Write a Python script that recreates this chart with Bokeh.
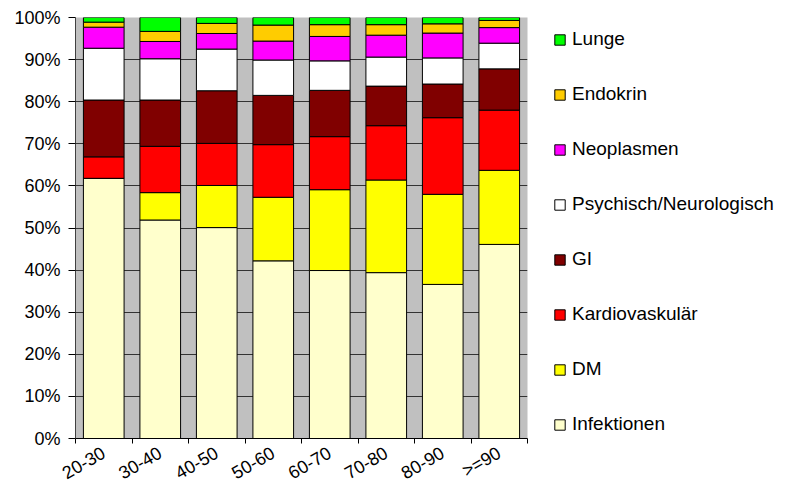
import math
from bokeh.plotting import figure
from bokeh.layouts import row
from bokeh.models import (Range1d, FixedTicker, PrintfTickFormatter, Legend, LegendItem,
                          ColumnDataSource)
from bokeh.embed import file_html
from bokeh.resources import INLINE

categories = ["20-30", "30-40", "40-50", "50-60", "60-70", "70-80", "80-90", ">=90"]
infektionen = [61.8, 51.9, 50.1, 42.2, 39.9, 39.4, 36.6, 46.1]
dm = [0.0, 6.5, 10.0, 15.1, 19.2, 22.0, 21.4, 17.6]
kardiovaskular = [5.1, 11.0, 10.0, 12.5, 12.6, 12.9, 18.2, 14.3]
gi = [13.5, 11.0, 12.5, 11.7, 11.0, 9.4, 8.0, 9.8]
psychisch = [12.3, 9.8, 9.9, 8.4, 7.0, 6.9, 6.2, 6.1]
neoplasmen = [5.0, 4.1, 3.7, 4.5, 5.8, 5.2, 5.9, 3.7]
endokrin = [1.2, 2.4, 2.4, 3.8, 2.8, 2.5, 2.2, 1.7]
lunge = [1.1, 3.3, 1.4, 1.8, 1.7, 1.7, 1.5, 0.7]
y_ticks = [0, 10, 20, 30, 40, 50, 60, 70, 80, 90, 100]

series_names = ["Infektionen", "DM", "Kardiovaskulär", "GI", "Psychisch/Neurologisch",
                "Neoplasmen", "Endokrin", "Lunge"]
series_vals = [infektionen, dm, kardiovaskular, gi, psychisch, neoplasmen, endokrin, lunge]
colors = ["#FFFFCC", "#FFFF00", "#FF0000", "#800000", "#FFFFFF", "#FF00FF", "#FFCC00", "#00FF00"]

xpos = [i + 0.5 for i in range(len(categories))]
data = {"x": xpos}
keys = []
for i, vals in enumerate(series_vals):
    k = f"s{i}"
    keys.append(k)
    data[k] = vals
source = ColumnDataSource(data)

FONT = "Liberation Sans"

p = figure(width=537, height=495, output_backend="svg", toolbar_location=None,
           x_range=Range1d(0, len(categories)), y_range=Range1d(0, 100),
           min_border_left=75, min_border_top=17, min_border_bottom=57, min_border_right=10)
p.background_fill_color = "#C0C0C0"
p.border_fill_color = "white"
p.outline_line_color = None

renderers = p.vbar_stack(keys, x="x", width=0.72, source=source, fill_color=colors,
                         line_color="black", line_width=1)

# axes
p.yaxis.ticker = FixedTicker(ticks=y_ticks, minor_ticks=[])
p.yaxis.formatter = PrintfTickFormatter(format="%d%%")
p.yaxis.major_tick_in = 0
p.yaxis.major_tick_out = 7
p.yaxis.major_label_standoff = 8
p.yaxis.axis_line_color = "#404040"
p.yaxis.major_tick_line_color = "black"
p.yaxis.major_label_text_font = FONT
p.yaxis.major_label_text_font_size = "18px"
p.yaxis.major_label_text_color = "black"

p.xaxis.ticker = FixedTicker(ticks=xpos, minor_ticks=list(range(len(categories) + 1)))
p.xaxis.major_label_overrides = {x: c for x, c in zip(xpos, categories)}
p.xaxis.major_tick_out = 0
p.xaxis.major_tick_in = 0
p.xaxis.minor_tick_out = 5
p.xaxis.minor_tick_in = 0
p.xaxis.minor_tick_line_color = "black"
p.xaxis.axis_line_color = "black"
p.xaxis.major_label_orientation = math.pi / 6
p.xaxis.major_label_standoff = 8
p.xaxis.major_label_text_font = FONT
p.xaxis.major_label_text_font_size = "18px"
p.xaxis.major_label_text_color = "black"

p.xgrid.visible = False
p.ygrid.ticker = FixedTicker(ticks=y_ticks)
p.ygrid.grid_line_color = "#333333"
p.ygrid.grid_line_alpha = 1.0

# legend figure (the same stacked bars, scrolled out of view, only the legend shows)
lf = figure(width=252, height=495, output_backend="svg", toolbar_location=None,
            x_range=Range1d(-20, -19), y_range=Range1d(0, 100),
            x_axis_type=None, y_axis_type=None,
            min_border_left=5, min_border_right=0, min_border_top=17, min_border_bottom=57)
lf.outline_line_color = None
lf.xgrid.visible = False
lf.ygrid.visible = False
legend_renderers = lf.vbar_stack(keys, x="x", width=0.72, source=source, fill_color=colors,
                                 line_color="black", line_width=1)

items = [LegendItem(label=n, renderers=[r]) for n, r in zip(series_names, legend_renderers)]
items = items[::-1]
legend = Legend(items=items, location="top_left", orientation="vertical",
                glyph_width=13, glyph_height=13, label_height=22, spacing=33,
                label_standoff=6, padding=0, margin=11,
                border_line_color=None, background_fill_alpha=0,
                label_text_font=FONT, label_text_font_size="19px", label_text_color="black")
lf.add_layout(legend, "center")

layout = row(p, lf, spacing=0)
open("out.html", "w").write(file_html(layout, INLINE))
